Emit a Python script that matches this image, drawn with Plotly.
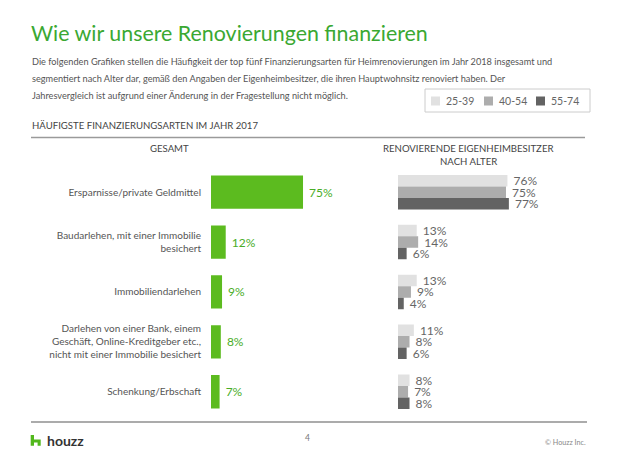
import plotly.graph_objects as go

W, H = 618, 461
OFF = 8  # page body margin offset

def px(x):
    return (x - OFF) / W

def py(y):
    return 1 - (y - OFF) / H

# ---------------- data ----------------
categories = [
    "Ersparnisse/private Geldmittel",
    "Baudarlehen, mit einer Immobilie besichert",
    "Immobiliendarlehen",
    "Darlehen von einer Bank, einem Geschäft, Online-Kreditgeber etc., nicht mit einer Immobilie besichert",
    "Schenkung/Erbschaft",
]
category_ticktext = [
    "Ersparnisse/private Geldmittel",
    "Baudarlehen, mit einer Immobilie<br>besichert",
    "Immobiliendarlehen",
    "Darlehen von einer Bank, einem<br>Geschäft, Online-Kreditgeber etc.,<br>nicht mit einer Immobilie besichert",
    "Schenkung/Erbschaft",
]
gesamt = [75, 12, 9, 8, 7]
age_groups = ["25-39", "40-54", "55-74"]
age_25_39 = [76, 13, 13, 11, 8]
age_40_54 = [75, 14, 9, 8, 7]
age_55_74 = [77, 6, 4, 6, 8]
age_values = [age_25_39, age_40_54, age_55_74]
age_colors = ["#e1e1e1", "#adadad", "#636363"]

title_text = "Wie wir unsere Renovierungen finanzieren"
intro_lines = [
    "Die folgenden Grafiken stellen die Häufigkeit der top fünf Finanzierungsarten für Heimrenovierungen im Jahr 2018 insgesamt und",
    "segmentiert nach Alter dar, gemäß den Angaben der Eigenheimbesitzer, die ihren Hauptwohnsitz renoviert haben. Der",
    "Jahresvergleich ist aufgrund einer Änderung in der Fragestellung nicht möglich.",
]

FONT = "Lato, 'Open Sans', sans-serif"
GREEN_BAR = "#5cbb1f"
GREEN_TXT = "#49ad27"
GREEN_TITLE = "#3aa832"

fig = go.Figure()

fig.add_trace(go.Bar(
    y=categories, x=gesamt, orientation="h", name="Gesamt",
    marker=dict(color=GREEN_BAR, line=dict(width=0)),
    width=0.667,
    texttemplate="\u00a0%{x}%", textposition="outside", cliponaxis=False,
    constraintext="none",
    textfont=dict(family=FONT, size=12, color=GREEN_TXT),
    xaxis="x", yaxis="y", showlegend=False, hoverinfo="skip",
))

for name, vals, col in zip(age_groups, age_values, age_colors):
    fig.add_trace(go.Bar(
        y=categories, x=vals, orientation="h", name=name,
        marker=dict(color=col, line=dict(width=0)),
        texttemplate="\u00a0%{x}%", textposition="outside", cliponaxis=False,
        constraintext="none",
        textfont=dict(family=FONT, size=12, color="#666666"),
        xaxis="x2", yaxis="y2", showlegend=False, hoverinfo="skip",
    ))

y_top, y_bot = 167.2, 416.7
ydom = [py(y_bot), py(y_top)]

fig.update_layout(
    width=W, height=H,
    margin=dict(l=0, r=0, t=0, b=0),
    paper_bgcolor="white", plot_bgcolor="white",
    barmode="group", bargap=0.308, bargroupgap=0,
    font=dict(family=FONT, color="#555555"),
    xaxis=dict(domain=[px(211), px(211 + 1.227 * 100)], range=[0, 100],
               visible=False, fixedrange=True),
    yaxis=dict(domain=ydom, type="category", categoryorder="array",
               categoryarray=categories, range=[4.5, -0.5],
               tickmode="array", tickvals=categories, ticktext=category_ticktext,
               tickfont=dict(family=FONT, size=10, color="#555555"),
               ticks="", showline=False, showgrid=False, zeroline=False,
               ticklabelstandoff=9, anchor="x"),
    xaxis2=dict(domain=[px(398), px(398 + 1.44 * 100)], range=[0, 100],
                visible=False, anchor="y2"),
    yaxis2=dict(domain=ydom, type="category", categoryorder="array",
                categoryarray=categories, range=[4.5, -0.5],
                showticklabels=False, ticks="", showline=False,
                showgrid=False, zeroline=False, anchor="x2"),
)

ann = []
def text(x, y, s, size, color="#555555", xanchor="left"):
    ann.append(dict(x=px(x), y=py(y), xref="paper", yref="paper", text=s,
                    showarrow=False, xanchor=xanchor, yanchor="middle",
                    font=dict(family=FONT, size=size, color=color),
                    align="left" if xanchor == "left" else "center"))

# title
text(29, 33, title_text, 21.4, GREEN_TITLE)
# intro
for i, line in enumerate(intro_lines):
    text(30, 61.5 + i * 17, line, 9.2, "#555555")
# section headings
text(30, 125.5, "HÄUFIGSTE FINANZIERUNGSARTEN IM JAHR 2017", 9.6, "#444444")
text(169, 148.5, "GESAMT", 9.6, "#444444", xanchor="center")
text(468, 148.5, "RENOVIERENDE EIGENHEIMBESITZER", 9.6, "#444444", xanchor="center")
text(468, 161.5, "NACH ALTER", 9.6, "#444444", xanchor="center")
# footer
text(45, 440.5, "<b>houzz</b>", 14, "#333333")
text(307, 438, "4", 8.5, "#777777", xanchor="center")
text(543, 442, "© Houzz Inc.", 7.2, "#888888")

# legend (manual, from age_groups / age_colors)
shapes = []
shapes.append(dict(type="rect", xref="paper", yref="paper",
                   x0=px(425), x1=px(590), y0=py(89), y1=py(112),
                   line=dict(color="#cccccc", width=1), fillcolor="white"))
leg_x = [431, 484, 536]
for lx, name, col in zip(leg_x, age_groups, age_colors):
    shapes.append(dict(type="rect", xref="paper", yref="paper",
                       x0=px(lx), x1=px(lx + 9), y0=py(96.5), y1=py(105.5),
                       line=dict(width=0), fillcolor=col))
    text(lx + 13, 101, name, 10.5, "#666666")

# lines
shapes.append(dict(type="line", xref="paper", yref="paper",
                   x0=px(31), x1=px(585), y0=py(137.5), y1=py(137.5),
                   line=dict(color="#9a9a9a", width=1.3)))
shapes.append(dict(type="line", xref="paper", yref="paper",
                   x0=px(31), x1=px(587), y0=py(422), y1=py(422),
                   line=dict(color="#ababab", width=2)))
shapes.append(dict(type="line", xref="paper", yref="paper",
                   x0=px(616.5), x1=px(616.5), y0=0, y1=1,
                   line=dict(color="#555555", width=1.5)))

# houzz icon
pts = [(30.7, 435), (34, 435), (34, 439.5), (40.7, 439.5), (40.7, 445.7),
       (37.6, 445.7), (37.6, 442.6), (34, 442.6), (34, 445.7), (30.7, 445.7)]
path = "M" + " L".join(f"{px(x):.5f},{py(y):.5f}" for x, y in pts) + " Z"
shapes.append(dict(type="path", xref="paper", yref="paper", path=path,
                   fillcolor="#52b81c", line=dict(width=0)))

fig.update_layout(annotations=ann, shapes=shapes)

fig.write_html("out.html")
